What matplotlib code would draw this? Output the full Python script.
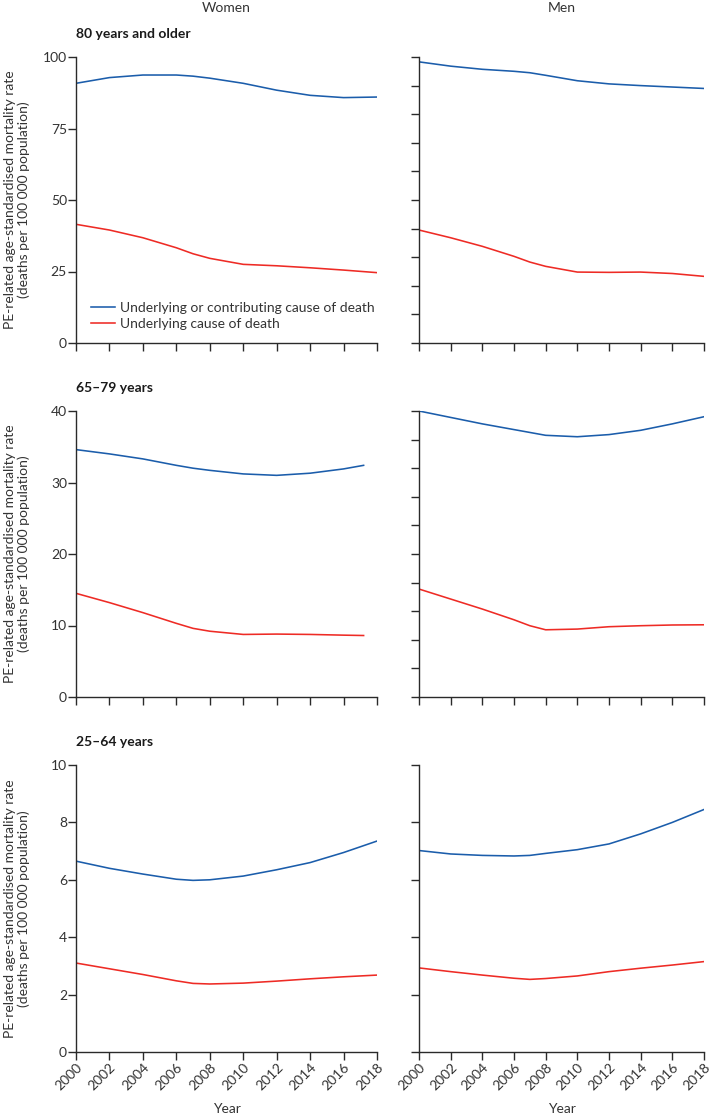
import matplotlib
matplotlib.use("Agg")
import matplotlib.pyplot as plt

plt.rcParams['font.family'] = ['Lato', 'DejaVu Sans']

years = [2000, 2002, 2004, 2006, 2007, 2008, 2010, 2012, 2014, 2016, 2018]
years_w_mid = [2000, 2002, 2004, 2006, 2007, 2008, 2010, 2012, 2014, 2016, 2017.2]

# 80 years and older
w80_blue = [90.8, 92.8, 93.7, 93.7, 93.3, 92.6, 90.8, 88.4, 86.6, 85.8, 86.0]
w80_red = [41.5, 39.5, 36.8, 33.3, 31.2, 29.6, 27.5, 27.0, 26.3, 25.5, 24.6]
m80_blue = [98.3, 96.8, 95.7, 95.0, 94.5, 93.6, 91.7, 90.6, 90.0, 89.5, 89.0]
m80_red = [39.5, 36.8, 33.8, 30.3, 28.3, 26.8, 24.8, 24.7, 24.8, 24.3, 23.3]

# 65-79 years
w65_blue = [34.6, 34.0, 33.3, 32.4, 32.0, 31.7, 31.2, 31.0, 31.3, 31.9, 32.4]
w65_red = [14.5, 13.2, 11.8, 10.3, 9.6, 9.2, 8.75, 8.8, 8.75, 8.65, 8.6]
m65_blue = [40.0, 39.1, 38.2, 37.4, 37.0, 36.6, 36.4, 36.7, 37.3, 38.2, 39.2]
m65_red = [15.1, 13.7, 12.3, 10.8, 9.97, 9.4, 9.5, 9.83, 9.97, 10.07, 10.1]

# 25-64 years
w25_blue = [6.65, 6.4, 6.2, 6.02, 5.98, 6.0, 6.13, 6.35, 6.6, 6.95, 7.35]
w25_red = [3.1, 2.9, 2.7, 2.48, 2.39, 2.37, 2.4, 2.47, 2.55, 2.62, 2.68]
m25_blue = [7.02, 6.9, 6.85, 6.83, 6.85, 6.92, 7.05, 7.25, 7.6, 8.0, 8.45]
m25_red = [2.93, 2.8, 2.68, 2.57, 2.53, 2.56, 2.65, 2.8, 2.92, 3.03, 3.15]

row_titles = ["80 years and older", "65\u201379 years", "25\u201364 years"]
col_titles = ["Women", "Men"]
yticks_left = [[0, 25, 50, 75, 100], [0, 10, 20, 30, 40], [0, 2, 4, 6, 8, 10]]
yticks_right = [list(range(0, 101, 10)), list(range(0, 41, 4)), [0, 2, 4, 6, 8, 10]]
xticks = list(range(2000, 2019, 2))
legend_labels = ["Underlying or contributing cause of death", "Underlying cause of death"]
ylabel = "PE-related age-standardised mortality rate\n(deaths per 100 000 population)"

BLUE = "#1b5dab"
RED = "#ee2b25"
AX = "#2a2a2a"

fig = plt.figure(figsize=(7.12, 11.19), dpi=100)
W, H = 712, 1119

def ax_at(x0, y0, x1, y1):
    return fig.add_axes([x0 / W, 1 - y1 / H, (x1 - x0) / W, (y1 - y0) / H])

col_x = [(76, 377), (419, 704)]
row_y = [(57, 343), (411, 697), (765, 1052)]

data = [
    [(years, w80_blue, w80_red), (years, m80_blue, m80_red)],
    [(years_w_mid, w65_blue, w65_red), (years, m65_blue, m65_red)],
    [(years, w25_blue, w25_red), (years, m25_blue, m25_red)],
]

fs = 10
for r in range(3):
    for c in range(2):
        x0, x1 = col_x[c]
        y0, y1 = row_y[r]
        ax = ax_at(x0, y0, x1, y1)
        xs, b, rd = data[r][c]
        l1, = ax.plot(xs, b, color=BLUE, lw=1.15)
        l2, = ax.plot(xs, rd, color=RED, lw=1.15)
        ax.set_xlim(2000, 2018)
        yt = yticks_left[r] if c == 0 else yticks_right[r]
        ax.set_ylim(yticks_left[r][0], yticks_left[r][-1])
        ax.set_yticks(yt)
        ax.set_xticks(xticks)
        for s in ['top', 'right']:
            ax.spines[s].set_visible(False)
        for s in ['left', 'bottom']:
            ax.spines[s].set_linewidth(1.0)
            ax.spines[s].set_color(AX)
        ax.tick_params(length=5.5, width=1.0, colors=AX, labelsize=fs, pad=1,
                       labelcolor='#333333')
        if c == 1:
            ax.set_yticklabels([])
        else:
            fig.text(17 / W, 1 - (y0 + y1) / 2 / H, ylabel, rotation=90, ha='center',
                     va='center', fontsize=fs, color='#333333', multialignment='center')
        if r < 2:
            ax.set_xticklabels([])
        else:
            ax.set_xticklabels([str(x) for x in xticks], rotation=45, ha='right',
                               rotation_mode='anchor', fontsize=fs)
            fig.text((x0 + x1) / 2 / W, 1 - 1109 / H, "Year", fontsize=fs,
                     ha='center', va='center', color='#333333')
        if r == 0 and c == 0:
            ax.legend([l1, l2], legend_labels, loc='upper left',
                      bbox_to_anchor=((90.5 - x0) / (x1 - x0), (y1 - 302) / (y1 - y0)),
                      frameon=False, fontsize=fs, handlelength=1.75, handletextpad=0.35,
                      labelspacing=0.3, borderpad=0, borderaxespad=0,
                      labelcolor='#333333')
        if c == 0:
            fig.text(x0 / W, 1 - (y0 - 23) / H, row_titles[r], fontsize=fs,
                     fontweight='bold', ha='left', va='center', color='#1a1a1a')
        if r == 0:
            fig.text((x0 + x1) / 2 / W, 1 - 8 / H, col_titles[c], fontsize=fs,
                     ha='center', va='center', color='#333333')

fig.savefig("out.png", dpi=100)
